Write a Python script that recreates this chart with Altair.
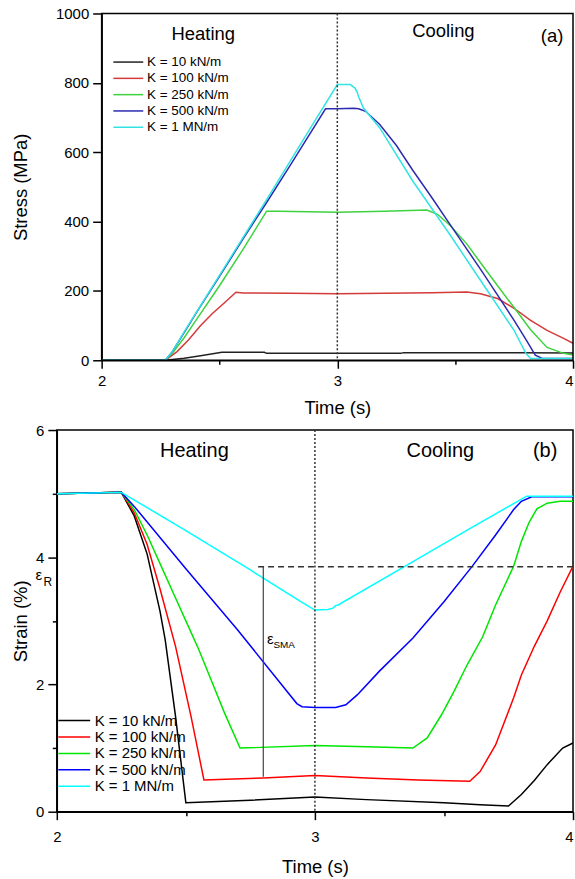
import altair as alt
import pandas as pd

FONT = "Liberation Sans"
series = ["K = 10 kN/m", "K = 100 kN/m", "K = 250 kN/m", "K = 500 kN/m", "K = 1 MN/m"]
colors_a = ["#222222", "#d43a3a", "#3fd23f", "#2b2bb0", "#33e3e3"]
colors_b = ["#000000", "#ff0000", "#00e600", "#0000ff", "#00ffff"]

# ---------- panel (a): stress (MPa) vs time (s) ----------
ta_10 = [2.0, 2.27, 2.35, 2.42, 2.51, 2.6, 2.69, 2.7, 3.0, 3.27, 3.28, 3.5, 3.78, 4.0]
sa_10 = [0, 0, 6, 13, 23, 23, 23, 20, 20, 20, 22, 22, 22, 21]
ta_100 = [2.0, 2.27, 2.32, 2.37, 2.42, 2.47, 2.52, 2.57, 2.6, 2.8, 3.0, 3.2, 3.4, 3.55,
          3.607, 3.68, 3.75, 3.82, 3.89, 3.96, 4.0]
sa_100 = [0, 0, 25, 60, 100, 135, 165, 196, 194, 193, 192, 193, 195, 197,
          192, 178, 150, 115, 86, 63, 49]
ta_250 = [2.0, 2.27, 2.3, 2.35, 2.4, 2.5, 2.6, 2.7, 2.75, 3.0, 3.2, 3.38, 3.425, 3.48,
          3.55, 3.61, 3.68, 3.75, 3.82, 3.89, 3.96, 4.0]
sa_250 = [0, 0, 20, 65, 115, 215, 320, 430, 430, 427, 430, 433, 421, 388,
          335, 279, 215, 152, 88, 37, 20, 15]
ta_500 = [2.0, 2.27, 2.3, 2.35, 2.4, 2.5, 2.6, 2.7, 2.8, 2.95, 3.0, 3.07, 3.09, 3.12,
          3.18, 3.25, 3.32, 3.4, 3.47, 3.54, 3.61, 3.68, 3.75, 3.8, 3.84, 3.87, 4.0]
sa_500 = [0, 0, 25, 80, 135, 242, 350, 455, 562, 725, 725, 727, 725, 718,
          680, 620, 548, 470, 400, 330, 260, 188, 115, 60, 15, 5, 5]
ta_1M = [2.0, 2.27, 2.3, 2.35, 2.5, 2.7, 2.9, 3.0, 3.055, 3.075, 3.085, 3.09, 3.1, 3.11,
         3.18, 3.32, 3.47, 3.61, 3.75, 3.8, 3.82, 4.0]
sa_1M = [0, 0, 25, 82, 245, 463, 685, 795, 795, 785, 772, 760, 745, 728,
         670, 517, 370, 228, 86, 20, 5, 5]

# ---------- panel (b): strain (%) vs time (s) ----------
tb_10 = [2.0, 2.25, 2.3, 2.35, 2.4, 2.42, 2.46, 2.5, 2.75, 3.0, 3.2, 3.5, 3.64, 3.75,
         3.8, 3.85, 3.9, 3.96, 4.0]
sb_10 = [5.0, 5.02, 4.65, 4.05, 3.15, 2.7, 1.5, 0.14, 0.18, 0.23, 0.19, 0.14, 0.11, 0.09,
         0.27, 0.49, 0.74, 1.0, 1.08]
tb_100 = [2.0, 2.25, 2.3, 2.35, 2.4, 2.46, 2.52, 2.57, 2.8, 3.0, 3.2, 3.4, 3.6, 3.64,
          3.7, 3.77, 3.8, 3.85, 3.9, 3.95, 4.0]
sb_100 = [5.0, 5.02, 4.7, 4.2, 3.5, 2.6, 1.5, 0.5, 0.53, 0.57, 0.53, 0.5, 0.48, 0.63,
          1.05, 1.79, 2.15, 2.6, 3.0, 3.45, 3.86]
tb_250 = [2.0, 2.25, 2.3, 2.35, 2.4, 2.45, 2.5, 2.55, 2.6, 2.65, 2.71, 3.0, 3.2, 3.38,
          3.435, 3.49, 3.54, 3.59, 3.65, 3.7, 3.77, 3.8, 3.83, 3.86, 3.9, 3.95, 4.0]
sb_250 = [5.0, 5.02, 4.75, 4.35, 3.9, 3.45, 3.0, 2.55, 2.05, 1.55, 1.0, 1.04, 1.02, 1.0,
          1.16, 1.52, 1.9, 2.31, 2.75, 3.25, 3.86, 4.25, 4.55, 4.76, 4.85, 4.88, 4.88]
tb_500 = [2.0, 2.25, 2.3, 2.5, 2.7, 2.93, 2.95, 3.0, 3.08, 3.12, 3.165, 3.25, 3.38, 3.5,
          3.61, 3.7, 3.77, 3.8, 3.84, 4.0]
sb_500 = [5.0, 5.02, 4.8, 3.82, 2.86, 1.7, 1.65, 1.64, 1.64, 1.68, 1.84, 2.21, 2.73, 3.3,
          3.86, 4.35, 4.75, 4.88, 4.95, 4.95]
tb_1M = [2.0, 2.25, 2.5, 2.75, 2.95, 3.0, 3.05, 3.07, 3.08, 3.09, 3.35, 3.6, 3.82, 4.0]
sb_1M = [5.0, 5.02, 4.42, 3.8, 3.29, 3.17, 3.18, 3.2, 3.24, 3.25, 3.86, 4.45, 4.96, 4.96]

# annotation texts
labels_a = ["Heating", "Cooling", "(a)"]
lab_t_a = [2.431, 3.45, 3.911]
lab_v_a = [942, 948, 934]
labels_b = ["Heating", "Cooling", "(b)"]
lab_t_b = [2.533, 3.486, 3.892]
lab_v_b = [5.67, 5.67, 5.67]
eps_R = 3.85          # residual strain level
eps_t = 2.80          # time of the epsilon_SMA bar
eps_bottom = 0.55

W = 518               # shared panel width
INSET = 45            # panel (a) axes start this far right of panel (b)


def frame(ts, vs):
    rows = []
    for name, t, v in zip(series, ts, vs):
        for i, (a, b) in enumerate(zip(t, v)):
            rows.append({"K": name, "t": a, "v": b, "i": i})
    return pd.DataFrame(rows)


df_a = frame([ta_10, ta_100, ta_250, ta_500, ta_1M], [sa_10, sa_100, sa_250, sa_500, sa_1M])
df_b = frame([tb_10, tb_100, tb_250, tb_500, tb_1M], [sb_10, sb_100, sb_250, sb_500, sb_1M])


def x_axis(label_pad, title_pad):
    return alt.Axis(
        values=[2, 2.5, 3, 3.5, 4],
        labelExpr="datum.value % 1 === 0 ? toString(datum.value) : ''",
        tickSize={"condition": {"test": "datum.value % 1 === 0", "value": 8}, "value": 4},
        labelAlign={"condition": {"test": "datum.value === 4", "value": "right"}, "value": "center"},
        labelOverlap=False, labelFlush=False,
        labelPadding=label_pad, titlePadding=title_pad,
        labelFontSize=15, titleFontSize=18.5, titleFontWeight="normal",
    )


def y_axis(vals, major, label_pad, title_pad, offset=0):
    return alt.Axis(
        values=vals,
        labelExpr=f"datum.value % {major} === 0 ? toString(datum.value) : ''",
        tickSize={"condition": {"test": f"datum.value % {major} === 0", "value": 9}, "value": 4.5},
        labelOverlap=False, labelFlush=False,
        labelPadding=label_pad, titlePadding=title_pad, offset=offset,
        labelFontSize=15, titleFontSize=18.5, titleFontWeight="normal",
    )


# ---- panel a
lines_a = alt.Chart(df_a).mark_line(strokeWidth=1.5, clip=True).encode(
    x=alt.X("t:Q", title="Time (s)",
            scale=alt.Scale(domain=[2, 4], nice=False, range=[INSET, W]),
            axis=x_axis(5, 10)),
    y=alt.Y("v:Q", title="Stress (MPa)", scale=alt.Scale(domain=[0, 1000], nice=False),
            axis=y_axis(list(range(0, 1001, 100)), 200, 4, 25, offset=-INSET)),
    color=alt.Color("K:N", sort=series, scale=alt.Scale(domain=series, range=colors_a),
                    legend=alt.Legend(orient="none", legendX=20 + INSET, legendY=42, title=None,
                                      symbolType="M-5,0H5", symbolSize=36,
                                      symbolStrokeWidth=1.5, labelFontSize=13.5,
                                      labelOffset=12, rowPadding=1.35, padding=0,
                                      labelFont=FONT, labelColor="black")),
    order="i:Q",
)
box_a = alt.Chart().mark_rect(fillOpacity=0, stroke="black", strokeWidth=1.5).encode(
    x=alt.datum(2), x2=alt.datum(4), y=alt.datum(0), y2=alt.datum(1000))
vline_a = alt.Chart().mark_rule(color="#333333", strokeWidth=1.5, strokeDash=[2, 2]).encode(
    x=alt.datum(3))
txt_a = alt.Chart(pd.DataFrame({"label": labels_a, "t": lab_t_a, "v": lab_v_a})).mark_text(
    font=FONT, fontSize=18.5, color="black").encode(x="t:Q", y="v:Q", text="label:N")
top = alt.layer(lines_a, box_a, vline_a, txt_a).properties(
    width=W, height=348, view=alt.ViewBackground(strokeOpacity=0))

# ---- panel b
lines_b = alt.Chart(df_b).mark_line(strokeWidth=1.5, clip=True).encode(
    x=alt.X("t:Q", title="Time (s)", scale=alt.Scale(domain=[2, 4], nice=False),
            axis=x_axis(10, 13)),
    y=alt.Y("v:Q", title="Strain (%)", scale=alt.Scale(domain=[0, 6], nice=False),
            axis=y_axis(list(range(0, 7)), 2, 4, 5)),
    color=alt.Color("K:N", sort=series, scale=alt.Scale(domain=series, range=colors_b),
                    legend=alt.Legend(orient="none", legendX=10, legendY=284, title=None,
                                      symbolType="M-5.33,0H5.33", symbolSize=36,
                                      symbolStrokeWidth=1.5, labelFontSize=15,
                                      labelOffset=13, rowPadding=0.5, padding=0,
                                      labelFont=FONT, labelColor="black")),
    order="i:Q",
)
vline_b = alt.Chart().mark_rule(color="#333333", strokeWidth=1.5, strokeDash=[2, 2]).encode(
    x=alt.datum(3))
dash_b = alt.Chart().mark_rule(color="#333333", strokeWidth=1.5, strokeDash=[6, 4]).encode(
    x=alt.datum(2.78), x2=alt.datum(4.0), y=alt.datum(eps_R))
bar_b = alt.Chart().mark_rule(color="#444444", strokeWidth=1.2).encode(
    x=alt.datum(eps_t), y=alt.datum(eps_bottom), y2=alt.datum(eps_R))
txt_b = alt.Chart(pd.DataFrame({"label": labels_b, "t": lab_t_b, "v": lab_v_b})).mark_text(
    font=FONT, fontSize=20, color="black").encode(x="t:Q", y="v:Q", text="label:N")
epsR_1 = alt.Chart().mark_text(font=FONT, fontSize=15, color="black", dx=-18, dy=8).encode(
    x=alt.datum(2), y=alt.datum(eps_R), text=alt.value("ε"))
epsR_2 = alt.Chart().mark_text(font=FONT, fontSize=12, color="black", dx=-9, dy=15).encode(
    x=alt.datum(2), y=alt.datum(eps_R), text=alt.value("R"))
epsS_1 = alt.Chart().mark_text(font=FONT, fontSize=15, color="black", dx=7, dy=0).encode(
    x=alt.datum(eps_t), y=alt.datum(2.71), text=alt.value("ε"))
epsS_2 = alt.Chart().mark_text(font=FONT, fontSize=10, color="black", dx=21, dy=6).encode(
    x=alt.datum(eps_t), y=alt.datum(2.71), text=alt.value("SMA"))
bottom = alt.layer(lines_b, vline_b, dash_b, bar_b, txt_b, epsR_1, epsR_2, epsS_1, epsS_2
                   ).properties(width=W, height=383)

chart = alt.vconcat(top, bottom, spacing=5).resolve_scale(
    color="independent", x="independent", y="independent"
).properties(
    padding={"left": 10, "top": 5, "right": 0, "bottom": 2}, background="white"
).configure_view(stroke="black", strokeWidth=1.5).configure_axis(
    labelFont=FONT, titleFont=FONT, labelColor="black", titleColor="black",
    titleFontWeight="normal", domainColor="black", tickColor="black",
    domainWidth=1.5, tickWidth=1.5, grid=False,
)

chart.save("out.html", embed_options={"renderer": "svg", "actions": False})
